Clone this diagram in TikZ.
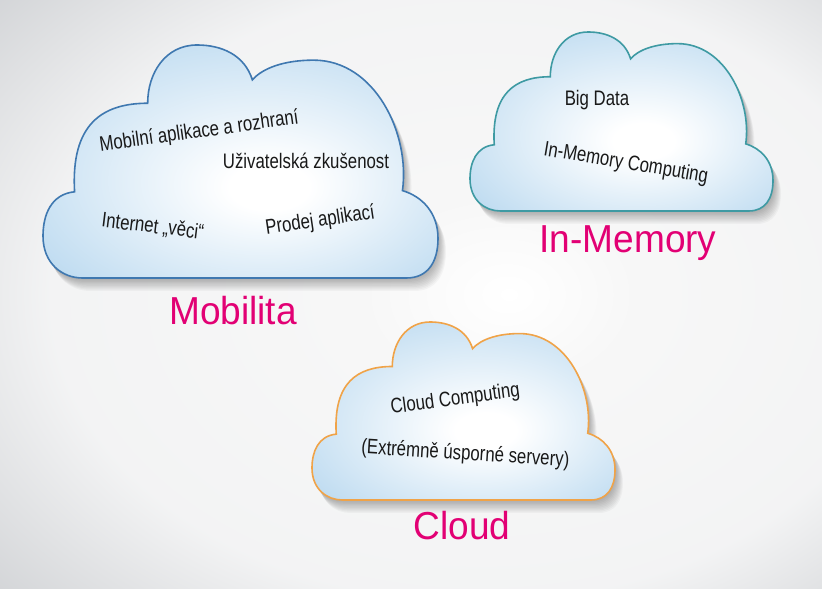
\documentclass[tikz,border=0pt]{standalone}
\usepackage{fontspec}
\setmainfont{Liberation Sans}
\newfontfamily\narrowfont[FakeStretch=0.8]{Liberation Sans}
\newfontfamily\titlefont[FakeStretch=0.95]{Liberation Sans}
\definecolor{cloudfill}{RGB}{188,218,240}
\definecolor{mobline}{RGB}{63,120,176}
\definecolor{memline}{RGB}{62,154,163}
\definecolor{cldline}{RGB}{240,163,72}
\definecolor{tmagenta}{RGB}{226,0,116}
\definecolor{bgedge}{RGB}{206,208,211}
\pgfdeclareradialshading{cloudshade}{\pgfpoint{4bp}{-6bp}}{color(0bp)=(white); color(5bp)=(white); color(34bp)=(cloudfill); color(60bp)=(cloudfill)}
\pgfdeclareradialshading{bgshade}{\pgfpoint{6bp}{0bp}}{color(0bp)=(white); color(8bp)=(white!97!black); color(26bp)=(white!75!bgedge); color(40bp)=(bgedge); color(80bp)=(bgedge)}
\tikzset{
  cloud outline/.style={insert path={(0.10,0) -- (0.92,0)
    .. controls (0.975,0) and (1,0.07) .. (1,0.17)
    .. controls (1,0.28) and (0.96,0.35) .. (0.91,0.375)
    .. controls (0.93,0.62) and (0.84,0.935) .. (0.685,0.935)
    .. controls (0.61,0.935) and (0.555,0.90) .. (0.53,0.85)
    .. controls (0.51,0.96) and (0.45,1) .. (0.39,1)
    .. controls (0.31,1) and (0.265,0.88) .. (0.265,0.75)
    .. controls (0.15,0.75) and (0.07,0.66) .. (0.08,0.37)
    .. controls (0.02,0.36) and (0,0.27) .. (0,0.18)
    .. controls (0,0.06) and (0.05,0) .. (0.10,0) -- cycle}},
  item/.style={text=black!90,font=\narrowfont\fontsize{21}{25}\selectfont,anchor=base,inner sep=0pt},
  title/.style={text=tmagenta,font=\titlefont\fontsize{39}{44}\selectfont,anchor=base,inner sep=0pt}
}
% x, y of lower left corner, width, height, line colour
\newcommand\drawcloud[5]{%
  \foreach \k in {1,...,10}
    \fill[black,opacity=0.03,shift={(#1+0.8*\k,#2-1.3*\k)},xscale=#3,yscale=#4,cloud outline];
  \shade[shading=cloudshade,shift={(#1,#2)},xscale=#3,yscale=#4,cloud outline];
  \draw[#5,line width=1.6pt,shift={(#1,#2)},xscale=#3,yscale=#4,cloud outline];
}
\begin{document}
\begin{tikzpicture}[x=1pt,y=1pt]
    \useasboundingbox (0,0) rectangle (822,589);
    \shade[shading=bgshade] (0,0) rectangle (822,589);

    % clouds
    \drawcloud{43}{311}{395}{233}{mobline}
    \drawcloud{470}{378}{303}{179}{memline}
    \drawcloud{312}{89}{303}{178}{cldline}

    % Mobilita
    \node[item,rotate=8] (mobapp) at (200,451.5) {Mobilní aplikace a rozhraní};
    \node[item] (mobux) at (306,420) {Uživatelská zkušenost};
    \node[item,rotate=-7] (mobiot) at (152,356) {Internet „věci“};
    \node[item,rotate=8.5] (mobsale) at (321,362.5) {Prodej aplikací};
    \node[title] (mobtitle) at (233,264) {Mobilita};

    % In-Memory
    \node[item] (membig) at (597,483) {Big Data};
    \node[item,rotate=-9.5] (memcomp) at (625,420) {In-Memory Computing};
    \node[title] (memtitle) at (628,336) {In-Memory};

    % Cloud
    \node[item,rotate=7.7] (cldcomp) at (456,184) {Cloud Computing};
    \node[item,rotate=-3.5] (cldserv) at (465,129) {(Extrémně úsporné servery)};
    \node[title] (cldtitle) at (462,49) {Cloud};
\end{tikzpicture}
\end{document}
